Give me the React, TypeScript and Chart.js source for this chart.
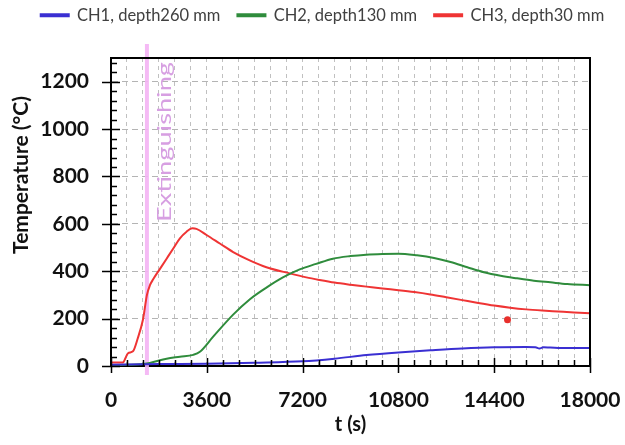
import React, { useEffect, useRef } from 'react';
import { Chart, registerables } from 'chart.js';
Chart.register(...registerables);

// ---- data (time in s, temperature in °C) ----
const seriesLabels = ['CH1, depth260 mm', 'CH2, depth130 mm', 'CH3, depth30 mm'];

const tCH1 = [0, 1800, 3600, 5400, 7200, 8400, 9600, 10800, 12000, 13200, 14400, 15600, 15950, 16100, 16250, 16500, 17100, 18000];
const vCH1 = [5, 8, 10, 14, 20, 31, 46, 57, 66, 74, 79, 80, 79, 74, 79, 78, 76, 76];

const tCH2 = [0, 600, 1100, 1460, 2090, 2590, 3090, 3340, 3840, 4590, 5210, 5840, 6460, 7090, 7710, 8340, 9000, 9590, 10200, 10800, 11500, 12140, 12760, 13390, 14010, 14640, 15260, 15890, 16510, 17140, 18000];
const vCH2 = [3, 5, 7, 13, 31, 39, 47, 60, 124, 217, 281, 331, 374, 408, 431, 453, 464, 470, 473, 474, 467, 456, 439, 417, 396, 381, 370, 360, 353, 346, 341];

const tCH3 = [0, 450, 550, 640, 825, 1000, 1200, 1350, 1460, 1590, 1840, 2090, 2340, 2590, 2840, 3060, 3210, 3590, 4090, 4590, 5210, 5840, 6710, 7340, 7840, 8400, 9000, 9600, 10200, 10800, 11400, 12000, 12600, 13200, 13800, 14400, 15000, 15600, 16200, 16800, 17400, 18000];
const vCH3 = [15, 15, 35, 54, 62, 115, 195, 300, 340, 367, 410, 453, 496, 539, 567, 581, 579, 553, 517, 481, 446, 417, 391, 374, 363, 352, 343, 335, 327, 320, 312, 302, 290, 278, 266, 255, 246, 239, 234, 230, 226, 223];

const markerT = [14900];
const markerV = [195];

const extinguishT = 1350;
const extinguishLabel = 'Extinguishing';
const yTitle = 'Temperature (°C)';
const xTitle = 't (s)';

const xMin = 0, xMax = 18000, xMajor = 3600, xMinor = 600;
const yMin = 0, yMax = 1300, yMajor = 200, yMinor = 40;

const colors = ['#3a2fd2', '#2f8c3c', '#ef3434'];

const pts = (t: number[], v: number[]) => t.map((x, i) => ({ x, y: v[i] }));

const decor = {
  id: 'decor',
  beforeDatasetsDraw(chart: any) {
    const { ctx, chartArea: a, scales } = chart;
    const px = scales.x.getPixelForValue(extinguishT);
    ctx.save();
    ctx.fillStyle = 'rgba(244,178,244,0.9)';
    ctx.fillRect(px - 2, a.top - 14, 4, a.bottom - a.top + 23);
    ctx.font = '19px Lato';
    const w = ctx.measureText(extinguishLabel).width;
    ctx.translate(px + 24, a.top + 164);
    ctx.rotate(-Math.PI / 2);
    ctx.scale(160 / w, 1);
    ctx.fillStyle = '#d79fe2';
    ctx.textAlign = 'left';
    ctx.textBaseline = 'alphabetic';
    ctx.fillText(extinguishLabel, 0, 0);
    ctx.restore();
  },
  afterDraw(chart: any) {
    const { ctx, chartArea: a, scales } = chart;
    const xs = scales.x, ys = scales.y;
    ctx.save();
    ctx.strokeStyle = '#000';
    ctx.lineWidth = 2;
    ctx.beginPath();
    ctx.moveTo(a.left, a.top);
    ctx.lineTo(a.right, a.top);
    ctx.lineTo(a.right, a.bottom);
    ctx.stroke();
    ctx.lineWidth = 1.5;
    ctx.beginPath();
    for (let v = yMin; v <= yMax; v += yMinor) {
      const py = Math.round(ys.getPixelForValue(v)) + 0.5;
      if (v % yMajor === 0) {
        ctx.moveTo(a.left - 9, py);
        ctx.lineTo(a.left + 9, py);
      } else {
        ctx.moveTo(a.left, py);
        ctx.lineTo(a.left + 6, py);
      }
    }
    for (let t = xMin; t <= xMax; t += xMinor) {
      const px = Math.round(xs.getPixelForValue(t)) + 0.5;
      if (t % xMajor === 0) {
        ctx.moveTo(px, a.bottom + 7);
        ctx.lineTo(px, a.bottom - 8);
      } else {
        ctx.moveTo(px, a.bottom);
        ctx.lineTo(px, a.bottom - 6);
      }
    }
    ctx.stroke();
    // y axis title
    ctx.translate(21, a.top + 117);
    ctx.rotate(-Math.PI / 2);
    ctx.fillStyle = '#111';
    ctx.font = 'bold 21px Lato';
    ctx.textAlign = 'center';
    ctx.textBaseline = 'middle';
    ctx.fillText(yTitle, 0, 0);
    ctx.restore();
  },
};

export default function App() {
  const ref = useRef<HTMLCanvasElement | null>(null);
  useEffect(() => {
    if (!ref.current) return;
    const lineDs = (i: number, t: number[], v: number[]) => ({
      label: seriesLabels[i],
      data: pts(t, v),
      borderColor: colors[i],
      backgroundColor: colors[i],
      borderWidth: 2,
      pointRadius: 0,
      cubicInterpolationMode: 'monotone' as const,
    });
    const chart = new Chart(ref.current, {
      type: 'line',
      data: {
        datasets: [
          lineDs(0, tCH1, vCH1),
          lineDs(1, tCH2, vCH2),
          lineDs(2, tCH3, vCH3),
          {
            label: 'marker',
            data: pts(markerT, markerV),
            showLine: false,
            pointRadius: 3.5,
            pointBackgroundColor: '#e8302c',
            pointBorderWidth: 0,
            borderColor: '#e8302c',
            backgroundColor: '#e8302c',
          } as any,
        ],
      },
      options: {
        animation: false,
        responsive: true,
        maintainAspectRatio: false,
        layout: { padding: { top: -10, left: 20, right: 0, bottom: 0 } },
        plugins: {
          legend: {
            position: 'top',
            labels: {
              filter: (item: any) => item.text !== 'marker',
              boxWidth: 28,
              boxHeight: 2,
              padding: 17,
              color: '#404040',
              font: { family: 'Lato', size: 16.5 },
            },
          },
          tooltip: { enabled: false },
        },
        scales: {
          x: {
            type: 'linear',
            min: xMin,
            max: xMax,
            afterFit: (s: any) => { s.height = 79; },
            ticks: {
              stepSize: xMinor,
              autoSkip: false,
              maxRotation: 0,
              padding: 0,
              color: '#111',
              font: { family: 'Lato', size: 21, weight: 'bold' },
              callback: (v: any) => (Number(v) % xMajor === 0 ? String(v) : ''),
            },
            grid: { color: '#c0c0c0', lineWidth: 1, drawTicks: true, tickLength: 22, tickColor: 'rgba(0,0,0,0)' },
            border: { color: '#000', width: 2, dash: [4, 4] },
            title: {
              display: true,
              text: xTitle,
              color: '#111',
              padding: { top: 0, bottom: 8 },
              font: { family: 'Lato', size: 20, weight: 'bold' },
            },
          },
          xt: {
            type: 'linear',
            position: 'top',
            display: true,
            afterFit: (s: any) => { s.height = 24.5; },
            ticks: { display: false },
            grid: { display: false, drawOnChartArea: false },
            border: { display: false },
          },
          y: {
            min: yMin,
            max: yMax,
            afterFit: (s: any) => { s.width = 91; },
            ticks: {
              stepSize: yMajor,
              autoSkip: false,
              padding: 0,
              color: '#111',
              font: { family: 'Lato', size: 21, weight: 'bold' },
              callback: (v: any) => (Number(v) % yMajor === 0 ? String(v) : ''),
            },
            grid: { color: '#b4b4b4', lineWidth: 1, drawTicks: true, tickLength: 22, tickColor: 'rgba(0,0,0,0)' },
            border: { color: '#000', width: 2, dash: [6, 4] },
          },
          yr: {
            position: 'right',
            display: true,
            afterFit: (s: any) => { s.width = 35; },
            ticks: { display: false },
            grid: { display: false, drawOnChartArea: false },
            border: { display: false },
          },
        },
      },
      plugins: [decor],
    });
    return () => chart.destroy();
  }, []);
  return (
    <div style={{ position: 'absolute', left: 0, top: 0, width: 625, height: 445, background: '#fff' }}>
      <canvas ref={ref} />
    </div>
  );
}
